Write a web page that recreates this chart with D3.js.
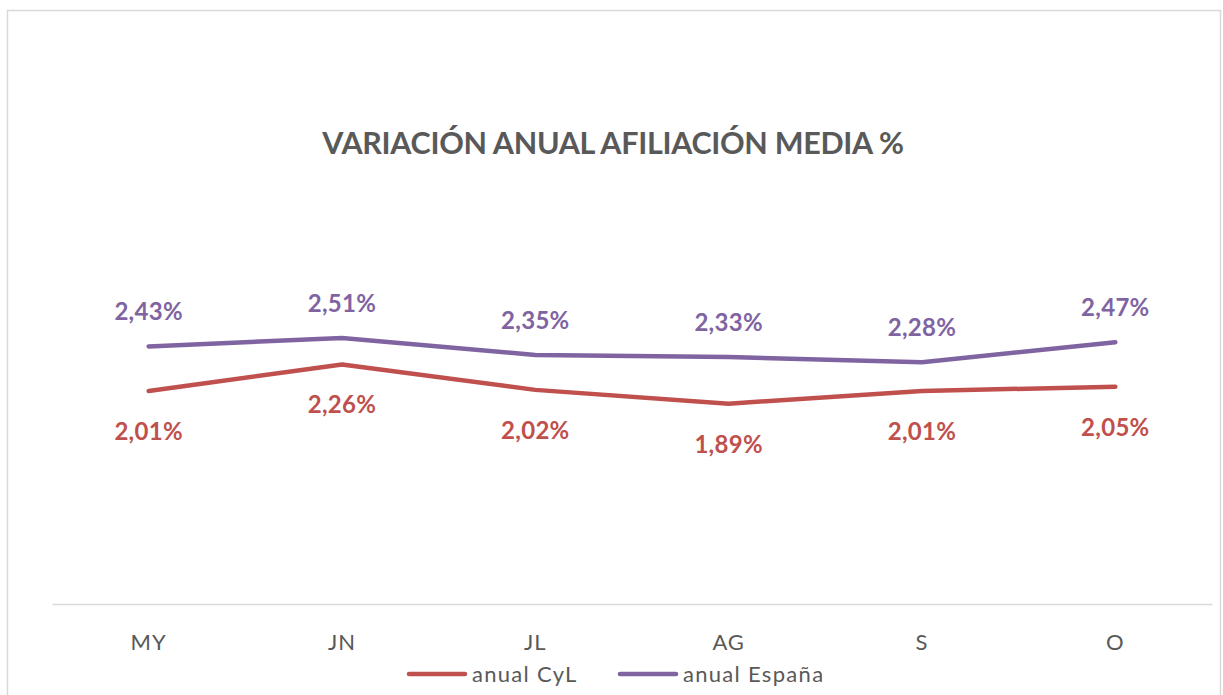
<!DOCTYPE html>
<html>
<head>
<meta charset="utf-8">
<script src="https://cdn.jsdelivr.net/npm/d3@7"></script>
<style>
  body { margin: 0; background: #fff; }
  svg { display: block; font-family: Lato, "Open Sans", sans-serif; }
</style>
</head>
<body>
<div id="chart"></div>
<script>
// data
var months = ["MY", "JN", "JL", "AG", "S", "O"]
var anualCyL = [2.01, 2.26, 2.02, 1.89, 2.01, 2.05]
var anualEspana = [2.43, 2.51, 2.35, 2.33, 2.28, 2.47]
var seriesNames = ["anual CyL", "anual España"]
var seriesColors = ["#C0504D", "#8064A2"]

var width = 1223, height = 695
var margin = {top: 286, right: 11, bottom: 91, left: 52}

var svg = d3.select("#chart")
  .append("svg")
  .attr("width", width)
  .attr("height", height)

// chart frame
svg.append("rect")
  .attr("x", 7.5).attr("y", 10.5)
  .attr("width", 1213).attr("height", 700)
  .attr("fill", "#fff")
  .attr("stroke", "#d9d9d9")
  .attr("stroke-width", 1.5)

var x = d3.scaleBand()
  .domain(months)
  .range([margin.left, width - margin.right])

var y = d3.scaleLinear()
  .domain([0, 3])
  .range([height - margin.bottom, margin.top])

// bottom axis
var xAxis = svg.append("g")
  .attr("transform", `translate(0,${y(0)})`)
  .call(d3.axisBottom(x).tickSize(0).tickPadding(30))
xAxis.select(".domain").attr("stroke", "#d9d9d9").attr("stroke-width", 1.5)
xAxis.selectAll("text")
  .attr("fill", "#595959")
  .style("font-size", "22px")
  .style("letter-spacing", "1px")
  .style("font-family", "Lato, sans-serif")

// title
svg.append("text")
  .attr("x", 613)
  .attr("y", 154)
  .attr("text-anchor", "middle")
  .attr("fill", "#595959")
  .attr("font-weight", "bold")
  .style("font-size", "30.5px")
  .style("letter-spacing", "-0.3px")
  .text("VARIACIÓN ANUAL AFILIACIÓN MEDIA %")

var line = d3.line()
  .x((d, i) => x(months[i]) + x.bandwidth() / 2)
  .y(d => y(d))

var fmt = d => d.toFixed(2).replace(".", ",") + "%"

var allSeries = [anualCyL, anualEspana]
allSeries.forEach(function(vals, k){
  svg.append("path")
    .datum(vals)
    .attr("fill", "none")
    .attr("stroke", seriesColors[k])
    .attr("stroke-width", 4.5)
    .attr("stroke-linecap", "round")
    .attr("stroke-linejoin", "round")
    .attr("d", line)

  svg.append("g")
    .selectAll("text")
    .data(vals)
    .join("text")
      .attr("x", (d, i) => x(months[i]) + x.bandwidth() / 2)
      .attr("y", d => k == 0 ? y(d) + 49 : y(d) - 26)
      .attr("text-anchor", "middle")
      .attr("fill", seriesColors[k])
      .attr("font-weight", "bold")
      .style("font-size", "24px")
      .style("letter-spacing", "0.3px")
      .text(fmt)
})

// legend
var legendX = [409, 620]
seriesNames.forEach(function(name, k){
  svg.append("line")
    .attr("x1", legendX[k]).attr("x2", legendX[k] + 56)
    .attr("y1", 674).attr("y2", 674)
    .attr("stroke", seriesColors[k])
    .attr("stroke-width", 4.5)
    .attr("stroke-linecap", "round")
  svg.append("text")
    .attr("x", legendX[k] + 63)
    .attr("y", 682)
    .attr("fill", "#595959")
    .style("font-size", "22px")
    .style("letter-spacing", "1.3px")
    .text(name)
})
</script>
</body>
</html>
